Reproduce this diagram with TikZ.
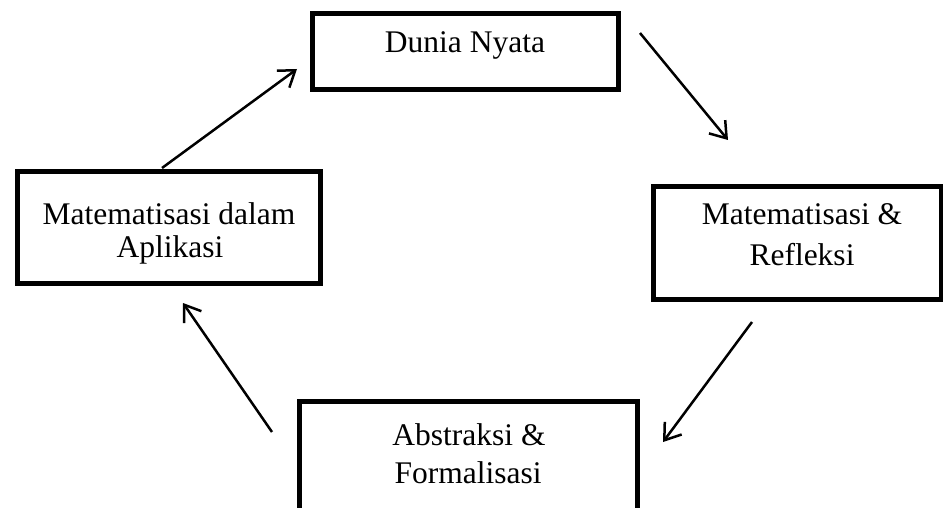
\documentclass[tikz,border=0pt]{standalone}
\usepackage{fontspec}
\setmainfont{Liberation Serif}
\usetikzlibrary{arrows.meta}
\begin{document}
\begin{tikzpicture}[x=1pt,y=-1pt,
  box/.style={draw=black, line width=5pt, rectangle, inner sep=0pt},
  lbl/.style={anchor=base, inner sep=0pt, font=\fontsize{31.5pt}{37pt}\selectfont},
  arr/.style={line width=2.5pt, -{Straight Barb[length=15pt,width=21pt,line width=2.5pt]}}]
\useasboundingbox (0,0) rectangle (943,508);
\clip (0,0) rectangle (943,508);
% boxes
\node[box, minimum width=306pt, minimum height=76pt] (dn) at (465,52) {};
\node[box, minimum width=303pt, minimum height=111pt] (ap) at (168.5,227.5) {};
\node[box, minimum width=288pt, minimum height=112pt] (rf) at (797,243) {};
\node[box, minimum width=338pt, minimum height=109pt] (ab) at (468,455.5) {};
% labels
\node[lbl] (dnt) at (465,53) {Dunia Nyata};
\node[lbl] (apt1) at (169,224) {Matematisasi dalam};
\node[lbl] (apt2) at (170,257) {Aplikasi};
\node[lbl] (rft1) at (802,225) {Matematisasi \&};
\node[lbl] (rft2) at (802,265) {Refleksi};
\node[lbl] (abt1) at (469,445) {Abstraksi \&};
\node[lbl] (abt2) at (468,483) {Formalisasi};
% arrow end points
\coordinate (a1s) at (640,33);  \coordinate (a1e) at (728,140);
\coordinate (a2s) at (752,322); \coordinate (a2e) at (663,442);
\coordinate (a3s) at (272,432); \coordinate (a3e) at (183,303);
\coordinate (a4s) at (162,168); \coordinate (a4e) at (297,69);
\draw[arr] (a1s) -- (a1e);
\draw[arr] (a2s) -- (a2e);
\draw[arr] (a3s) -- (a3e);
\draw[arr] (a4s) -- (a4e);
\end{tikzpicture}
\end{document}
